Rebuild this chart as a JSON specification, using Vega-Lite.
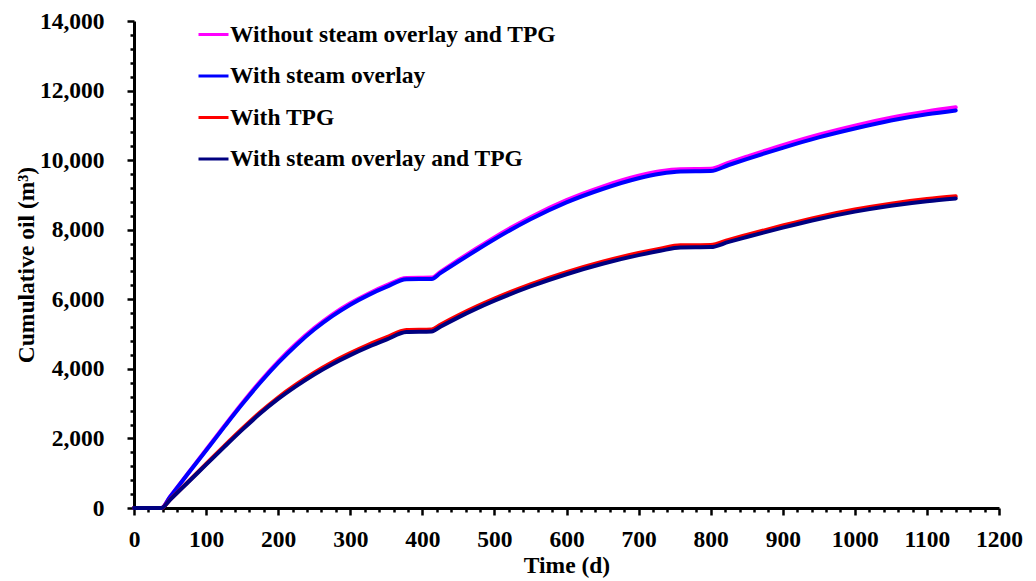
{
  "$schema": "https://vega.github.io/schema/vega-lite/v6.json",
  "width": 865,
  "height": 487,
  "autosize": {"type": "none"},
  "padding": {"left": 134, "top": 21, "right": 37, "bottom": 73},
  "background": "white",
  "config": {
    "view": {"stroke": null},
    "font": "Liberation Serif",
    "axis": {
      "grid": false,
      "labelFont": "Liberation Serif",
      "labelFontWeight": "bold",
      "labelFontSize": 23.5,
      "labelColor": "black",
      "titleFont": "Liberation Serif",
      "titleFontWeight": "bold",
      "titleFontSize": 23.5,
      "titleColor": "black",
      "labelOverlap": false,
      "labelFlush": false
    },
    "legend": {
      "labelFont": "Liberation Serif",
      "labelFontWeight": "bold",
      "labelFontSize": 23.5,
      "labelColor": "black"
    }
  },
  "data": {
    "values": [
      {"t": 0, "s": "Without steam overlay and TPG", "oil": 0},
      {"t": 20, "s": "Without steam overlay and TPG", "oil": 0},
      {"t": 38, "s": "Without steam overlay and TPG", "oil": 0},
      {"t": 50, "s": "Without steam overlay and TPG", "oil": 324},
      {"t": 75, "s": "Without steam overlay and TPG", "oil": 999},
      {"t": 100, "s": "Without steam overlay and TPG", "oil": 1674},
      {"t": 125, "s": "Without steam overlay and TPG", "oil": 2349},
      {"t": 150, "s": "Without steam overlay and TPG", "oil": 3011},
      {"t": 175, "s": "Without steam overlay and TPG", "oil": 3636},
      {"t": 200, "s": "Without steam overlay and TPG", "oil": 4211},
      {"t": 225, "s": "Without steam overlay and TPG", "oil": 4723},
      {"t": 250, "s": "Without steam overlay and TPG", "oil": 5173},
      {"t": 275, "s": "Without steam overlay and TPG", "oil": 5561},
      {"t": 300, "s": "Without steam overlay and TPG", "oil": 5886},
      {"t": 325, "s": "Without steam overlay and TPG", "oil": 6161},
      {"t": 350, "s": "Without steam overlay and TPG", "oil": 6398},
      {"t": 378, "s": "Without steam overlay and TPG", "oil": 6615},
      {"t": 413, "s": "Without steam overlay and TPG", "oil": 6625},
      {"t": 425, "s": "Without steam overlay and TPG", "oil": 6790},
      {"t": 450, "s": "Without steam overlay and TPG", "oil": 7130},
      {"t": 475, "s": "Without steam overlay and TPG", "oil": 7460},
      {"t": 500, "s": "Without steam overlay and TPG", "oil": 7780},
      {"t": 550, "s": "Without steam overlay and TPG", "oil": 8360},
      {"t": 600, "s": "Without steam overlay and TPG", "oil": 8850},
      {"t": 650, "s": "Without steam overlay and TPG", "oil": 9240},
      {"t": 700, "s": "Without steam overlay and TPG", "oil": 9550},
      {"t": 730, "s": "Without steam overlay and TPG", "oil": 9680},
      {"t": 758, "s": "Without steam overlay and TPG", "oil": 9740},
      {"t": 800, "s": "Without steam overlay and TPG", "oil": 9750},
      {"t": 825, "s": "Without steam overlay and TPG", "oil": 9930},
      {"t": 850, "s": "Without steam overlay and TPG", "oil": 10100},
      {"t": 900, "s": "Without steam overlay and TPG", "oil": 10430},
      {"t": 950, "s": "Without steam overlay and TPG", "oil": 10730},
      {"t": 1000, "s": "Without steam overlay and TPG", "oil": 10990},
      {"t": 1050, "s": "Without steam overlay and TPG", "oil": 11220},
      {"t": 1100, "s": "Without steam overlay and TPG", "oil": 11400},
      {"t": 1140, "s": "Without steam overlay and TPG", "oil": 11520},

      {"t": 0, "s": "With steam overlay", "oil": 0},
      {"t": 20, "s": "With steam overlay", "oil": 0},
      {"t": 38, "s": "With steam overlay", "oil": 0},
      {"t": 50, "s": "With steam overlay", "oil": 320},
      {"t": 75, "s": "With steam overlay", "oil": 990},
      {"t": 100, "s": "With steam overlay", "oil": 1655},
      {"t": 125, "s": "With steam overlay", "oil": 2325},
      {"t": 150, "s": "With steam overlay", "oil": 2980},
      {"t": 175, "s": "With steam overlay", "oil": 3600},
      {"t": 200, "s": "With steam overlay", "oil": 4170},
      {"t": 225, "s": "With steam overlay", "oil": 4680},
      {"t": 250, "s": "With steam overlay", "oil": 5130},
      {"t": 275, "s": "With steam overlay", "oil": 5515},
      {"t": 300, "s": "With steam overlay", "oil": 5845},
      {"t": 325, "s": "With steam overlay", "oil": 6120},
      {"t": 350, "s": "With steam overlay", "oil": 6355},
      {"t": 378, "s": "With steam overlay", "oil": 6575},
      {"t": 413, "s": "With steam overlay", "oil": 6585},
      {"t": 425, "s": "With steam overlay", "oil": 6750},
      {"t": 450, "s": "With steam overlay", "oil": 7085},
      {"t": 475, "s": "With steam overlay", "oil": 7410},
      {"t": 500, "s": "With steam overlay", "oil": 7725},
      {"t": 550, "s": "With steam overlay", "oil": 8300},
      {"t": 600, "s": "With steam overlay", "oil": 8785},
      {"t": 650, "s": "With steam overlay", "oil": 9170},
      {"t": 700, "s": "With steam overlay", "oil": 9480},
      {"t": 730, "s": "With steam overlay", "oil": 9610},
      {"t": 758, "s": "With steam overlay", "oil": 9675},
      {"t": 800, "s": "With steam overlay", "oil": 9685},
      {"t": 825, "s": "With steam overlay", "oil": 9860},
      {"t": 850, "s": "With steam overlay", "oil": 10030},
      {"t": 900, "s": "With steam overlay", "oil": 10355},
      {"t": 950, "s": "With steam overlay", "oil": 10655},
      {"t": 1000, "s": "With steam overlay", "oil": 10910},
      {"t": 1050, "s": "With steam overlay", "oil": 11140},
      {"t": 1100, "s": "With steam overlay", "oil": 11320},
      {"t": 1140, "s": "With steam overlay", "oil": 11430},

      {"t": 0, "s": "With TPG", "oil": 0},
      {"t": 20, "s": "With TPG", "oil": 0},
      {"t": 38, "s": "With TPG", "oil": 0},
      {"t": 50, "s": "With TPG", "oil": 240},
      {"t": 75, "s": "With TPG", "oil": 752},
      {"t": 100, "s": "With TPG", "oil": 1265},
      {"t": 125, "s": "With TPG", "oil": 1777},
      {"t": 150, "s": "With TPG", "oil": 2277},
      {"t": 175, "s": "With TPG", "oil": 2752},
      {"t": 200, "s": "With TPG", "oil": 3177},
      {"t": 225, "s": "With TPG", "oil": 3552},
      {"t": 250, "s": "With TPG", "oil": 3890},
      {"t": 275, "s": "With TPG", "oil": 4190},
      {"t": 300, "s": "With TPG", "oil": 4452},
      {"t": 325, "s": "With TPG", "oil": 4690},
      {"t": 350, "s": "With TPG", "oil": 4902},
      {"t": 378, "s": "With TPG", "oil": 5120},
      {"t": 413, "s": "With TPG", "oil": 5135},
      {"t": 425, "s": "With TPG", "oil": 5270},
      {"t": 450, "s": "With TPG", "oil": 5540},
      {"t": 475, "s": "With TPG", "oil": 5790},
      {"t": 500, "s": "With TPG", "oil": 6020},
      {"t": 550, "s": "With TPG", "oil": 6430},
      {"t": 600, "s": "With TPG", "oil": 6780},
      {"t": 650, "s": "With TPG", "oil": 7080},
      {"t": 700, "s": "With TPG", "oil": 7330},
      {"t": 730, "s": "With TPG", "oil": 7455},
      {"t": 758, "s": "With TPG", "oil": 7550},
      {"t": 800, "s": "With TPG", "oil": 7560},
      {"t": 825, "s": "With TPG", "oil": 7710},
      {"t": 850, "s": "With TPG", "oil": 7850},
      {"t": 900, "s": "With TPG", "oil": 8120},
      {"t": 950, "s": "With TPG", "oil": 8370},
      {"t": 1000, "s": "With TPG", "oil": 8580},
      {"t": 1050, "s": "With TPG", "oil": 8750},
      {"t": 1100, "s": "With TPG", "oil": 8880},
      {"t": 1140, "s": "With TPG", "oil": 8960},

      {"t": 0, "s": "With steam overlay and TPG", "oil": 0},
      {"t": 20, "s": "With steam overlay and TPG", "oil": 0},
      {"t": 38, "s": "With steam overlay and TPG", "oil": 0},
      {"t": 50, "s": "With steam overlay and TPG", "oil": 235},
      {"t": 75, "s": "With steam overlay and TPG", "oil": 740},
      {"t": 100, "s": "With steam overlay and TPG", "oil": 1245},
      {"t": 125, "s": "With steam overlay and TPG", "oil": 1750},
      {"t": 150, "s": "With steam overlay and TPG", "oil": 2245},
      {"t": 175, "s": "With steam overlay and TPG", "oil": 2715},
      {"t": 200, "s": "With steam overlay and TPG", "oil": 3135},
      {"t": 225, "s": "With steam overlay and TPG", "oil": 3505},
      {"t": 250, "s": "With steam overlay and TPG", "oil": 3840},
      {"t": 275, "s": "With steam overlay and TPG", "oil": 4135},
      {"t": 300, "s": "With steam overlay and TPG", "oil": 4395},
      {"t": 325, "s": "With steam overlay and TPG", "oil": 4630},
      {"t": 350, "s": "With steam overlay and TPG", "oil": 4840},
      {"t": 378, "s": "With steam overlay and TPG", "oil": 5060},
      {"t": 413, "s": "With steam overlay and TPG", "oil": 5075},
      {"t": 425, "s": "With steam overlay and TPG", "oil": 5210},
      {"t": 450, "s": "With steam overlay and TPG", "oil": 5480},
      {"t": 475, "s": "With steam overlay and TPG", "oil": 5730},
      {"t": 500, "s": "With steam overlay and TPG", "oil": 5960},
      {"t": 550, "s": "With steam overlay and TPG", "oil": 6370},
      {"t": 600, "s": "With steam overlay and TPG", "oil": 6720},
      {"t": 650, "s": "With steam overlay and TPG", "oil": 7020},
      {"t": 700, "s": "With steam overlay and TPG", "oil": 7270},
      {"t": 730, "s": "With steam overlay and TPG", "oil": 7395},
      {"t": 758, "s": "With steam overlay and TPG", "oil": 7490},
      {"t": 800, "s": "With steam overlay and TPG", "oil": 7500},
      {"t": 825, "s": "With steam overlay and TPG", "oil": 7650},
      {"t": 850, "s": "With steam overlay and TPG", "oil": 7790},
      {"t": 900, "s": "With steam overlay and TPG", "oil": 8060},
      {"t": 950, "s": "With steam overlay and TPG", "oil": 8310},
      {"t": 1000, "s": "With steam overlay and TPG", "oil": 8520},
      {"t": 1050, "s": "With steam overlay and TPG", "oil": 8690},
      {"t": 1100, "s": "With steam overlay and TPG", "oil": 8820},
      {"t": 1140, "s": "With steam overlay and TPG", "oil": 8900}
    ]
  },
  "mark": {"type": "line", "strokeWidth": 4, "interpolate": "monotone", "strokeCap": "round", "strokeJoin": "round"},
  "encoding": {
    "x": {
      "field": "t",
      "type": "quantitative",
      "title": "Time (d)",
      "scale": {"domain": [0, 1200], "nice": false, "zero": true},
      "axis": {
        "values": [0,20,40,60,80,100,120,140,160,180,200,220,240,260,280,300,320,340,360,380,400,420,440,460,480,500,520,540,560,580,600,620,640,660,680,700,720,740,760,780,800,820,840,860,880,900,920,940,960,980,1000,1020,1040,1060,1080,1100,1120,1140,1160,1180,1200],
        "labelExpr": "datum.value % 100 === 0 ? format(datum.value, 'd') : ''",
        "domain": true,
        "domainColor": "black",
        "domainWidth": 3,
        "ticks": true,
        "tickColor": "black",
        "tickWidth": 2.5,
        "tickSize": {"condition": {"test": "datum.value % 100 === 0", "value": 7}, "value": 4},
        "labelPadding": 12,
        "titlePadding": 3
      }
    },
    "y": {
      "field": "oil",
      "type": "quantitative",
      "title": "Cumulative oil (m³)",
      "scale": {"domain": [0, 14000], "nice": false},
      "axis": {
        "values": [0,400,800,1200,1600,2000,2400,2800,3200,3600,4000,4400,4800,5200,5600,6000,6400,6800,7200,7600,8000,8400,8800,9200,9600,10000,10400,10800,11200,11600,12000,12400,12800,13200,13600,14000],
        "labelExpr": "datum.value % 2000 === 0 ? format(datum.value, ',') : ''",
        "domain": true,
        "domainColor": "black",
        "domainWidth": 3,
        "ticks": true,
        "tickColor": "black",
        "tickWidth": 2.5,
        "tickSize": {"condition": {"test": "datum.value % 2000 === 0", "value": 7}, "value": 4},
        "labelPadding": 23,
        "titlePadding": 1
      }
    },
    "color": {
      "field": "s",
      "type": "nominal",
      "sort": ["Without steam overlay and TPG", "With steam overlay", "With TPG", "With steam overlay and TPG"],
      "scale": {
        "domain": ["Without steam overlay and TPG", "With steam overlay", "With TPG", "With steam overlay and TPG"],
        "range": ["#FF00FF", "#0000FF", "#FF0000", "#000080"]
      },
      "legend": {
        "title": null,
        "orient": "none",
        "legendX": 63,
        "legendY": -3,
        "padding": 0,
        "symbolType": "stroke",
        "symbolSize": 900,
        "symbolStrokeWidth": 3,
        "labelOffset": 0,
        "rowPadding": 13.5,
        "labelLimit": 500
      }
    }
  }
}
